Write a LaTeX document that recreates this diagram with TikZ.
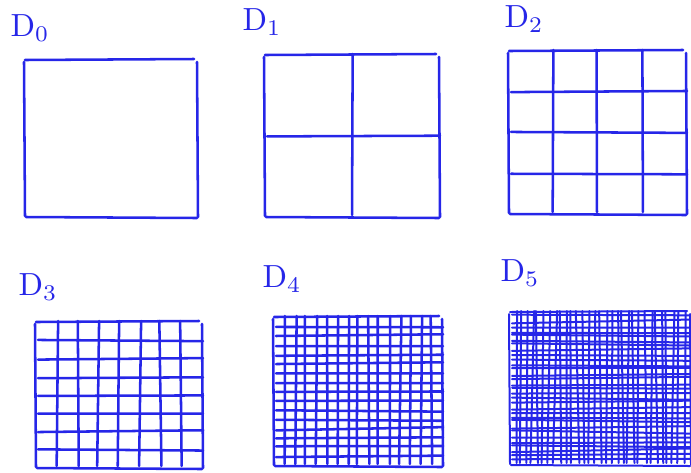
\documentclass[tikz,border=0pt]{standalone}
\usetikzlibrary{calc}
\definecolor{ink}{RGB}{38,38,232}
\tikzset{pen/.style={draw=ink, line width=1.9pt, line cap=round, line join=round},
  dlabel/.style={text=ink, inner sep=0pt, scale=2.4}}
\newcommand{\sketchbox}[4]{% outline of a grid, corners (#1,#2) and (#3,#4), drawn as four strokes
  \draw[pen] ($(#1,#2)+(0,0)$) -- ($(#3,#2)+(-3,-1)$);
  \draw[pen] ($(#3,#2)+(0,2)$) -- ($(#3,#4)+(1,0)$);
  \draw[pen] ($(#3,#4)+(0,1)$) -- ($(#1,#4)+(1,0)$);
  \draw[pen] ($(#1,#4)+(0,-1)$) -- ($(#1,#2)+(-1,2)$);
}
\newcommand{\sketchgrid}[6]{% n x n grid inside the box, lines shaken by #6
  \sketchbox{#1}{#2}{#3}{#4}
  \pgfmathtruncatemacro\lastcut{#5-1}
  \foreach \i in {1,...,\lastcut}{
    \pgfmathsetmacro\cx{#1+\i*(#3-#1)/#5}
    \pgfmathsetmacro\cy{#2+\i*(#4-#2)/#5}
    \pgfmathsetmacro\ja{#6*rand}\pgfmathsetmacro\jb{#6*rand}
    \pgfmathsetmacro\jc{#6*rand}\pgfmathsetmacro\jd{#6*rand}
    \draw[pen] (\cx+\ja,#2-1) -- (\cx+\jb,#4-2);
    \draw[pen] (#1+2,\cy+\jc) -- (#3+1,\cy+\jd);
  }
}

\begin{document}
\begin{tikzpicture}[x=0.75pt,y=-0.75pt]
  \useasboundingbox (0,0) rectangle (691,472);
  \pgfmathsetseed{11}
  % top row
  \sketchbox{25}{60}{197}{217}
  \node[dlabel] (lab0) at (30,28) {$\mathrm{D}_0$};
  \sketchgrid{265}{55}{439}{217}{2}{1}
  \node[dlabel] (lab1) at (262,22) {$\mathrm{D}_1$};
  \sketchgrid{509}{51}{686}{214}{4}{1.5}
  \node[dlabel] (lab2) at (524,19) {$\mathrm{D}_2$};
  % bottom row
  \sketchgrid{36}{322}{202}{468}{8}{1.5}
  \node[dlabel] (lab3) at (38,287) {$\mathrm{D}_3$};
  \sketchgrid{274}{317}{442}{466}{16}{1.8}
  \node[dlabel] (lab4) at (282,279) {$\mathrm{D}_4$};
  \begin{scope}[pen/.append style={line width=1.5pt}]
    \sketchgrid{510}{312}{690}{465}{32}{2.2}
  \end{scope}
  \node[dlabel] (lab5) at (520,273) {$\mathrm{D}_5$};
\end{tikzpicture}
\end{document}
